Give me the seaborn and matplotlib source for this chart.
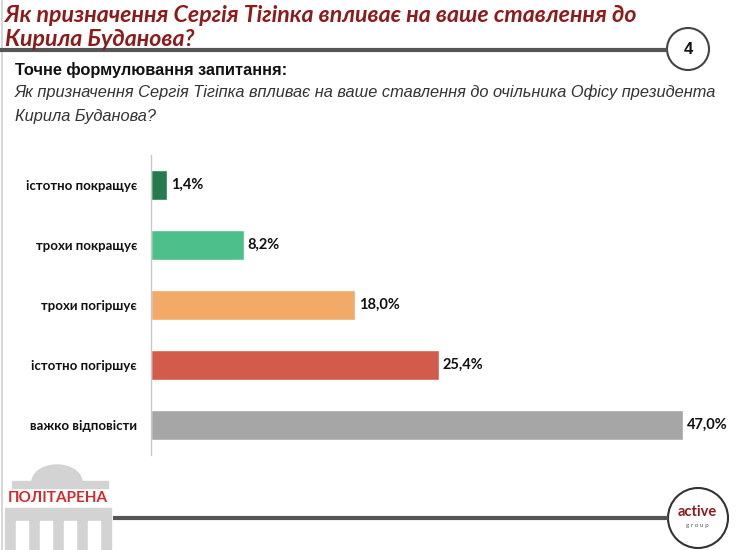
import numpy as np
import pandas as pd
import matplotlib
matplotlib.use("Agg")
import matplotlib.pyplot as plt
import seaborn as sns
from matplotlib.patches import Circle, Rectangle, Polygon

# ---- data ----
categories = ["істотно покращує", "трохи покращує", "трохи погіршує",
              "істотно погіршує", "важко відповісти"]
values = [1.4, 8.2, 18.0, 25.4, 47.0]
bar_colors = ["#267A4E", "#4DBF8A", "#F2AA68", "#D35B4B", "#A6A6A6"]
value_labels = ["1,4%", "8,2%", "18,0%", "25,4%", "47,0%"]

title_lines = ["Як призначення Сергія Тігіпка впливає на ваше ставлення до",
               "Кирила Буданова?"]
subtitle = "Точне формулювання запитання:"
question_lines = ["Як призначення Сергія Тігіпка впливає на ваше ставлення до очільника Офісу президента",
                  "Кирила Буданова?"]
page_no = "4"

df = pd.DataFrame({"cat": categories, "val": values})

W, H = 740, 550
sns.set_theme(style="white")
plt.rcParams['font.family'] = ['Lato', 'DejaVu Sans']

fig = plt.figure(figsize=(W / 100, H / 100), dpi=100)
fig.patch.set_facecolor("white")


def fx(x):
    return x / W


def fy(y):
    return 1 - y / H


# ---- main bar chart ----
ax = fig.add_axes([fx(151), fy(455), (717 - 151) / W, 300 / H])
sns.barplot(data=df, x="val", y="cat", hue="cat", palette=bar_colors,
            legend=False, orient="h", width=0.5, ax=ax, saturation=1)
ax.set_xlim(0, 50)
ax.set_ylim(4.5, -0.5)
ax.set_xlabel("")
ax.set_ylabel("")
ax.set_xticks([])
for s in ["top", "right", "bottom"]:
    ax.spines[s].set_visible(False)
ax.spines["left"].set_color("#C8C8C8")
ax.spines["left"].set_linewidth(1)
ax.tick_params(axis="y", which="major", length=0, pad=10)
ax.set_yticks(np.arange(-0.5, 5, 1), minor=True)
ax.tick_params(axis="y", which="minor", length=4, color="#C8C8C8", width=1)
for lbl in ax.get_yticklabels():
    lbl.set_fontweight("bold")
    lbl.set_fontsize(9.5)
    lbl.set_color("#111111")
for i, (v, t) in enumerate(zip(values, value_labels)):
    ax.text(v + 0.35, i, t, va="center", ha="left", fontsize=10.5,
            fontweight="bold", color="#111111")

# ---- header ----
title_font = ['Lato', 'DejaVu Sans']
fig.text(fx(5), fy(16), title_lines[0], family=title_font, fontsize=16.7,
         fontweight="bold", fontstyle="italic", color="#8E1B1B", va="center")
fig.text(fx(5), fy(40), title_lines[1], family=title_font, fontsize=16.7,
         fontweight="bold", fontstyle="italic", color="#8E1B1B", va="center")

deco = fig.add_axes([0, 0, 1, 1], zorder=-1)
deco.set_xlim(0, W)
deco.set_ylim(H, 0)
deco.axis("off")
deco.plot([2, 2], [0, H], color="#D0D0D0", lw=1.2)
deco.plot([0, 667], [50, 50], color="#555555", lw=3, solid_capstyle="butt")
deco.add_patch(Circle((688, 49), 21, fill=False, ec="#444444", lw=1.5))
deco.text(688, 49, page_no, ha="center", va="center", fontsize=12,
          fontweight="bold", family=['Liberation Sans', 'DejaVu Sans'], color="#111111")

q_font = ['Liberation Sans', 'DejaVu Sans']
fig.text(fx(15), fy(70), subtitle, family=q_font, fontsize=11.8,
         fontweight="bold", color="#111111", va="center")
fig.text(fx(15), fy(92), question_lines[0], family=q_font, fontsize=11.8,
         fontstyle="italic", color="#333333", va="center")
fig.text(fx(15), fy(116), question_lines[1], family=q_font, fontsize=11.8,
         fontstyle="italic", color="#333333", va="center")

# ---- footer ----
deco.plot([113, 668], [518, 518], color="#555555", lw=3, solid_capstyle="butt")
deco.add_patch(Circle((698, 518), 30, fill=False, ec="#333333", lw=1.5))
deco.text(697, 512, "active", ha="center", va="center", fontsize=10.5,
          fontweight="bold", color="#8E1B1B", family=title_font)
deco.text(697, 525, "g r o u p", ha="center", va="center", fontsize=4.5,
          color="#555555")

logo_gray = "#D3D3D3"
t = np.linspace(0, np.pi, 40)
dome = np.column_stack([57 + 25 * np.cos(t), 482 - 17 * np.sin(t)])
deco.add_patch(Polygon(dome, closed=True, color=logo_gray))
deco.add_patch(Rectangle((12, 481), 96, 7, color=logo_gray))
deco.add_patch(Rectangle((5, 508), 106, 42, color=logo_gray))
for gx in [16, 40, 64, 88]:
    deco.add_patch(Rectangle((gx, 521), 12, 29, color="white"))
deco.text(58, 498, "ПОЛІТАРЕНА", ha="center", va="center", fontsize=11,
          fontweight="bold", color="#D42A2A", family=title_font)

fig.savefig("out.png", dpi=100, facecolor="white")
